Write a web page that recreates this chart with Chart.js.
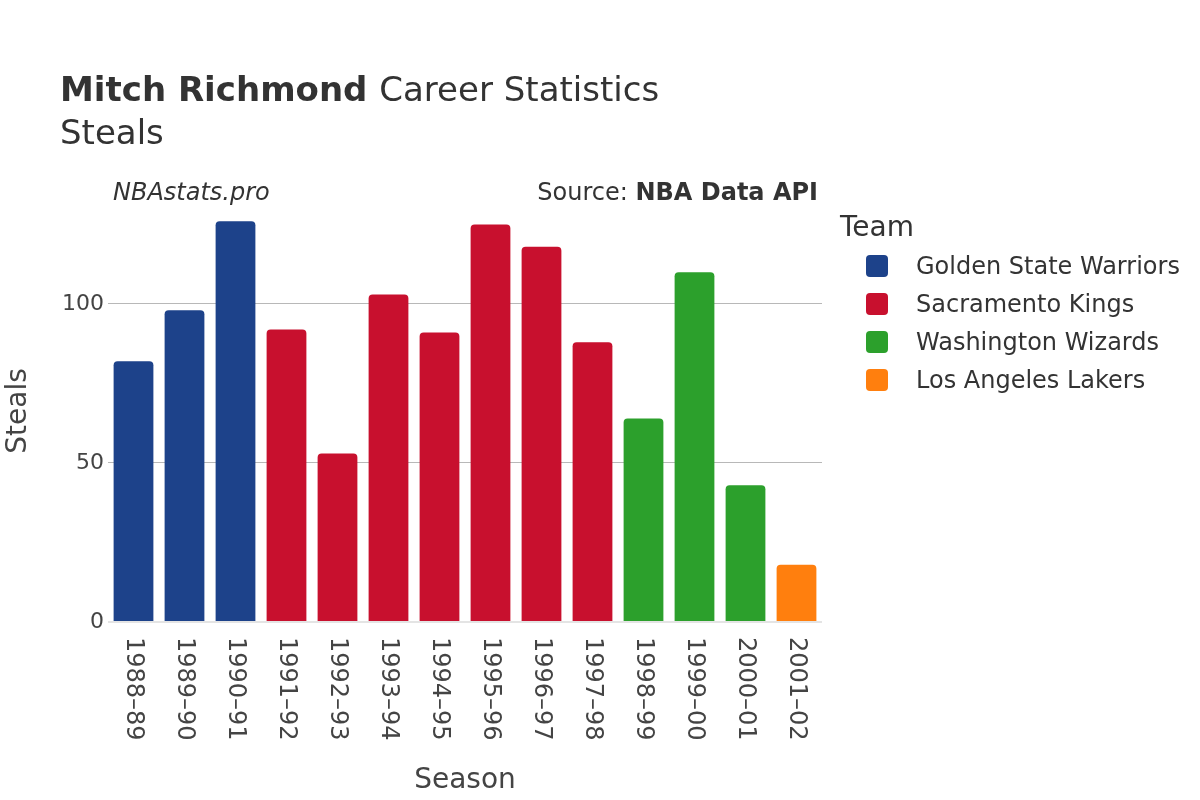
<!DOCTYPE html>
<html>
<head>
<meta charset="utf-8">
<script src="https://cdn.jsdelivr.net/npm/chart.js@4/dist/chart.umd.min.js"></script>
<style>
  body { margin: 0; background: #fff; }
  canvas { display: block; }
</style>
</head>
<body>
<canvas id="chart" width="1200" height="800"></canvas>
<script>
const seasons = ["1988–89","1989–90","1990–91","1991–92","1992–93","1993–94","1994–95",
  "1995–96","1996–97","1997–98","1998–99","1999–00","2000–01","2001–02"];
const teams = ["Golden State Warriors","Sacramento Kings","Washington Wizards","Los Angeles Lakers"];
const teamColors = ["#1d428a","#c8102e","#2ca02c","#ff7f0e"];
const seasonTeam = [0,0,0,1,1,1,1,1,1,1,2,2,2,3];
const steals = [82,98,126,92,53,103,91,125,118,88,64,110,43,18];
const yTicks = [0,50,100];

const FONT = "'DejaVu Sans', sans-serif";

// one dataset per team, null where he played elsewhere
const datasets = teams.map((team, t) => ({
  label: team,
  data: steals.map((v, i) => seasonTeam[i] === t ? v : null),
  backgroundColor: teamColors[t],
  borderRadius: 4,
  borderSkipped: 'bottom',
  barPercentage: 0.78,
  categoryPercentage: 1
}));

const textPlugin = {
  id: 'texts',
  afterDraw(chart) {
    const ctx = chart.ctx;
    const xs = chart.scales.x;
    ctx.save();
    ctx.fillStyle = '#333';
    ctx.textBaseline = 'alphabetic';
    ctx.textAlign = 'left';

    // title
    ctx.font = "bold 34px " + FONT;
    ctx.fillText("Mitch Richmond", 60, 101);
    const w = ctx.measureText("Mitch Richmond ").width;
    ctx.font = "34px " + FONT;
    ctx.fillText("Career Statistics", 60 + w, 101);
    ctx.fillText("Steals", 60, 144);

    // watermark + source
    ctx.font = "italic 24px " + FONT;
    ctx.fillText("NBAstats.pro", 113, 200);
    ctx.textAlign = 'right';
    ctx.font = "bold 24px " + FONT;
    ctx.fillText("NBA Data API", 818, 200);
    const bw = ctx.measureText("NBA Data API").width;
    ctx.font = "24px " + FONT;
    ctx.fillText("Source: ", 818 - bw, 200);

    // x tick labels, rotated to read top-down
    ctx.fillStyle = '#444';
    ctx.font = "24px " + FONT;
    ctx.textAlign = 'left';
    ctx.textBaseline = 'middle';
    seasons.forEach((s, i) => {
      const x = xs.getPixelForTick(i);
      ctx.save();
      ctx.translate(x, 637);
      ctx.rotate(Math.PI / 2);
      ctx.fillText(s, 0, 0);
      ctx.restore();
    });

    // axis titles
    ctx.fillStyle = '#444';
    ctx.font = "28px " + FONT;
    ctx.textAlign = 'center';
    ctx.textBaseline = 'alphabetic';
    ctx.fillText("Season", (chart.chartArea.left + chart.chartArea.right) / 2, 788);
    ctx.save();
    ctx.translate(26, (chart.chartArea.top + chart.chartArea.bottom) / 2);
    ctx.rotate(-Math.PI / 2);
    ctx.fillText("Steals", 0, 0);
    ctx.restore();

    // legend
    ctx.textAlign = 'left';
    ctx.fillStyle = '#333';
    ctx.font = "28px " + FONT;
    ctx.fillText("Team", 840, 236);
    ctx.font = "24px " + FONT;
    ctx.textBaseline = 'middle';
    chart.data.datasets.forEach((ds, i) => {
      const y = 266 + i * 38;
      ctx.fillStyle = ds.backgroundColor;
      ctx.beginPath();
      ctx.roundRect(866, y - 11, 22, 22, 4);
      ctx.fill();
      ctx.fillStyle = '#333';
      ctx.fillText(ds.label, 916, y + 2);
    });
    ctx.restore();
  }
};

new Chart(document.getElementById('chart'), {
  type: 'bar',
  data: { labels: seasons, datasets },
  options: {
    responsive: false,
    animation: false,
    devicePixelRatio: 1,
    layout: { padding: { left: 0, top: 200, right: 378, bottom: 0 } },
    plugins: { legend: { display: false }, tooltip: { enabled: false } },
    scales: {
      x: {
        stacked: true,
        grid: { display: false },
        border: { display: false },
        ticks: { display: false },
        afterFit(scale) { scale.height = 178; }
      },
      y: {
        stacked: true,
        min: 0,
        max: 132.7,
        border: { display: false },
        grid: {
          drawTicks: false,
          color: ctx => ctx.tick.value === 0 ? '#e4e4e4' : '#b8b8b8',
          lineWidth: ctx => ctx.tick.value === 0 ? 2 : 1
        },
        afterBuildTicks(scale) {
          scale.ticks = yTicks.map(v => ({ value: v }));
        },
        ticks: {
          padding: 4,
          color: '#444',
          font: { family: FONT, size: 22 }
        },
        afterFit(scale) { scale.width = 108; }
      }
    }
  },
  plugins: [textPlugin]
});
</script>
</body>
</html>
